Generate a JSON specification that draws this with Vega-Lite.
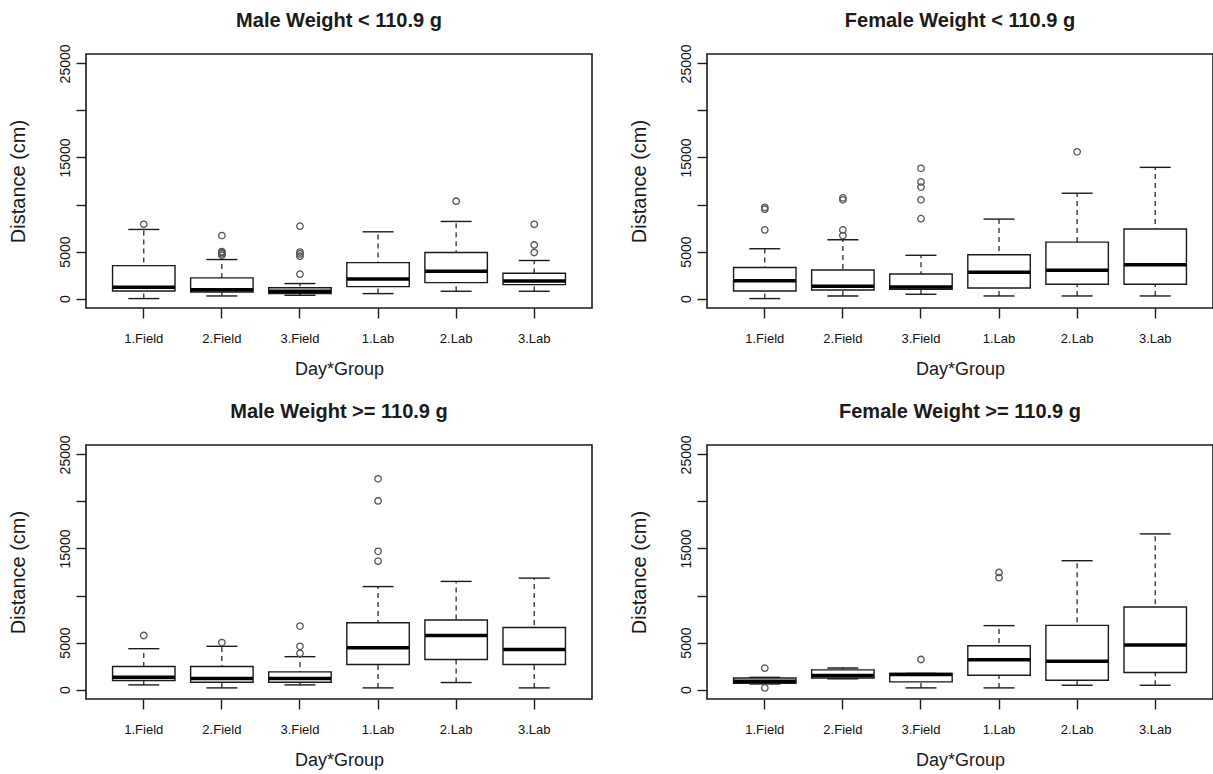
{
  "$schema": "https://vega.github.io/schema/vega-lite/v6.json",
  "background": "white",
  "padding": {"left": 7, "top": 10, "right": 0, "bottom": 0},
  "spacing": 22,
  "config": {
    "font": "Liberation Sans",
    "view": {"stroke": "#1a1a1a", "strokeWidth": 1.6},
    "title": {"font": "Liberation Sans", "fontSize": 20, "fontWeight": "bold", "color": "#1a1a1a", "anchor": "middle", "frame": "group", "offset": 13},
    "axis": {"domain": false, "grid": false, "tickColor": "#1a1a1a", "tickSize": 10, "tickWidth": 1.4, "labelFont": "Liberation Sans", "labelFontSize": 13, "labelColor": "#111", "titleFont": "Liberation Sans", "titleFontSize": 18, "titleFontWeight": "normal", "titleColor": "#1a1a1a"},
    "axisX": {"labelAngle": 0, "labelPadding": 14, "titlePadding": 15},
    "axisY": {"labelAngle": -90, "labelAlign": "center", "labelBaseline": "bottom", "labelPadding": 4, "labelFontSize": 14, "titlePadding": 30, "titleFontSize": 20}
  },
  "datasets": {
    "boxes": [
      {"panel": "ML", "group": "1.Field", "lower": 0, "q1": 800, "median": 1200, "q3": 3500, "upper": 7350},
      {"panel": "ML", "group": "2.Field", "lower": 280, "q1": 700, "median": 950, "q3": 2200, "upper": 4150},
      {"panel": "ML", "group": "3.Field", "lower": 350, "q1": 530, "median": 780, "q3": 1150, "upper": 1600},
      {"panel": "ML", "group": "1.Lab", "lower": 530, "q1": 1270, "median": 2080, "q3": 3820, "upper": 7100},
      {"panel": "ML", "group": "2.Lab", "lower": 780, "q1": 1700, "median": 2900, "q3": 4900, "upper": 8200},
      {"panel": "ML", "group": "3.Lab", "lower": 780, "q1": 1480, "median": 1870, "q3": 2700, "upper": 4050},
      {"panel": "FL", "group": "1.Field", "lower": 0, "q1": 810, "median": 1900, "q3": 3300, "upper": 5300},
      {"panel": "FL", "group": "2.Field", "lower": 280, "q1": 920, "median": 1310, "q3": 3040, "upper": 6250},
      {"panel": "FL", "group": "3.Field", "lower": 460, "q1": 990, "median": 1240, "q3": 2610, "upper": 4600},
      {"panel": "FL", "group": "1.Lab", "lower": 280, "q1": 1130, "median": 2800, "q3": 4660, "upper": 8450},
      {"panel": "FL", "group": "2.Lab", "lower": 280, "q1": 1520, "median": 3000, "q3": 6000, "upper": 11200},
      {"panel": "FL", "group": "3.Lab", "lower": 280, "q1": 1520, "median": 3600, "q3": 7400, "upper": 13950},
      {"panel": "MG", "group": "1.Field", "lower": 500, "q1": 960, "median": 1320, "q3": 2450, "upper": 4350},
      {"panel": "MG", "group": "2.Field", "lower": 180, "q1": 780, "median": 1170, "q3": 2450, "upper": 4600},
      {"panel": "MG", "group": "3.Field", "lower": 500, "q1": 780, "median": 1170, "q3": 1880, "upper": 3500},
      {"panel": "MG", "group": "1.Lab", "lower": 180, "q1": 2670, "median": 4450, "q3": 7100, "upper": 10950},
      {"panel": "MG", "group": "2.Lab", "lower": 750, "q1": 3200, "median": 5750, "q3": 7400, "upper": 11500},
      {"panel": "MG", "group": "3.Lab", "lower": 180, "q1": 2670, "median": 4270, "q3": 6600, "upper": 11850},
      {"panel": "FG", "group": "1.Field", "lower": 600, "q1": 680, "median": 890, "q3": 1240, "upper": 1300},
      {"panel": "FG", "group": "2.Field", "lower": 1150, "q1": 1240, "median": 1490, "q3": 2100, "upper": 2300},
      {"panel": "FG", "group": "3.Field", "lower": 180, "q1": 820, "median": 1600, "q3": 1710, "upper": 1720},
      {"panel": "FG", "group": "1.Lab", "lower": 180, "q1": 1530, "median": 3170, "q3": 4660, "upper": 6800},
      {"panel": "FG", "group": "2.Lab", "lower": 460, "q1": 1000, "median": 3020, "q3": 6830, "upper": 13700},
      {"panel": "FG", "group": "3.Lab", "lower": 460, "q1": 1810, "median": 4730, "q3": 8780, "upper": 16550}
    ],
    "outliers": [
      {"panel": "ML", "group": "1.Field", "value": 7900},
      {"panel": "ML", "group": "2.Field", "value": 4600},
      {"panel": "ML", "group": "2.Field", "value": 4750},
      {"panel": "ML", "group": "2.Field", "value": 4900},
      {"panel": "ML", "group": "2.Field", "value": 5000},
      {"panel": "ML", "group": "2.Field", "value": 6700},
      {"panel": "ML", "group": "3.Field", "value": 2600},
      {"panel": "ML", "group": "3.Field", "value": 4500},
      {"panel": "ML", "group": "3.Field", "value": 4750},
      {"panel": "ML", "group": "3.Field", "value": 4950},
      {"panel": "ML", "group": "3.Field", "value": 7700},
      {"panel": "ML", "group": "2.Lab", "value": 10350},
      {"panel": "ML", "group": "3.Lab", "value": 4900},
      {"panel": "ML", "group": "3.Lab", "value": 5700},
      {"panel": "ML", "group": "3.Lab", "value": 7900},
      {"panel": "FL", "group": "1.Field", "value": 7300},
      {"panel": "FL", "group": "1.Field", "value": 9500},
      {"panel": "FL", "group": "1.Field", "value": 9700},
      {"panel": "FL", "group": "2.Field", "value": 6700},
      {"panel": "FL", "group": "2.Field", "value": 7300},
      {"panel": "FL", "group": "2.Field", "value": 10500},
      {"panel": "FL", "group": "2.Field", "value": 10700},
      {"panel": "FL", "group": "3.Field", "value": 8500},
      {"panel": "FL", "group": "3.Field", "value": 10500},
      {"panel": "FL", "group": "3.Field", "value": 11850},
      {"panel": "FL", "group": "3.Field", "value": 12400},
      {"panel": "FL", "group": "3.Field", "value": 13850},
      {"panel": "FL", "group": "2.Lab", "value": 15600},
      {"panel": "MG", "group": "1.Field", "value": 5750},
      {"panel": "MG", "group": "2.Field", "value": 5000},
      {"panel": "MG", "group": "3.Field", "value": 3850},
      {"panel": "MG", "group": "3.Field", "value": 4600},
      {"panel": "MG", "group": "3.Field", "value": 6750},
      {"panel": "MG", "group": "1.Lab", "value": 13650},
      {"panel": "MG", "group": "1.Lab", "value": 14700},
      {"panel": "MG", "group": "1.Lab", "value": 20050},
      {"panel": "MG", "group": "1.Lab", "value": 22400},
      {"panel": "FG", "group": "1.Field", "value": 180},
      {"panel": "FG", "group": "1.Field", "value": 2280},
      {"panel": "FG", "group": "3.Field", "value": 3200},
      {"panel": "FG", "group": "1.Lab", "value": 11900},
      {"panel": "FG", "group": "1.Lab", "value": 12450}
    ]
  },
  "vconcat": [
    {"spacing": 35, "hconcat": [
      {
        "width": 506, "height": 254,
        "title": "Male Weight < 110.9 g",
        "encoding": {"x": {"field": "group", "type": "nominal", "title": "Day*Group", "scale": {"domain": ["1.Field", "2.Field", "3.Field", "1.Lab", "2.Lab", "3.Lab"], "paddingInner": 0, "paddingOuter": 0.24}}},
        "layer": [
          {"data": {"name": "boxes"}, "transform": [{"filter": "datum.panel == 'ML'"}], "mark": {"type": "rule", "strokeDash": [5, 4], "color": "#1a1a1a", "strokeWidth": 1.2}, "encoding": {"y": {"field": "lower", "type": "quantitative", "title": "Distance (cm)", "scale": {"domain": [-1000, 26000], "nice": false, "zero": false}, "axis": {"values": [0, 5000, 10000, 15000, 20000, 25000], "format": "d", "labelExpr": "datum.value == 10000 || datum.value == 20000 ? '' : datum.label"}}, "y2": {"field": "upper"}}},
          {"data": {"name": "boxes"}, "transform": [{"filter": "datum.panel == 'ML'"}], "mark": {"type": "tick", "size": 31, "thickness": 1.4, "color": "#1a1a1a", "opacity": 1}, "encoding": {"y": {"field": "lower", "type": "quantitative", "title": "Distance (cm)"}}},
          {"data": {"name": "boxes"}, "transform": [{"filter": "datum.panel == 'ML'"}], "mark": {"type": "tick", "size": 31, "thickness": 1.4, "color": "#1a1a1a", "opacity": 1}, "encoding": {"y": {"field": "upper", "type": "quantitative", "title": "Distance (cm)"}}},
          {"data": {"name": "boxes"}, "transform": [{"filter": "datum.panel == 'ML'"}], "mark": {"type": "bar", "width": {"band": 0.8}, "fill": "white", "stroke": "#1a1a1a", "strokeWidth": 1.4}, "encoding": {"y": {"field": "q1", "type": "quantitative", "title": "Distance (cm)"}, "y2": {"field": "q3"}}},
          {"data": {"name": "boxes"}, "transform": [{"filter": "datum.panel == 'ML'"}], "mark": {"type": "tick", "size": 62, "thickness": 3.5, "color": "#000", "opacity": 1}, "encoding": {"y": {"field": "median", "type": "quantitative", "title": "Distance (cm)"}}},
          {"data": {"name": "outliers"}, "transform": [{"filter": "datum.panel == 'ML'"}], "mark": {"type": "point", "shape": "circle", "filled": false, "size": 42, "color": "#555", "opacity": 1, "strokeWidth": 1.3}, "encoding": {"y": {"field": "value", "type": "quantitative", "title": "Distance (cm)"}}}
        ]
      },
      {
        "width": 506, "height": 254,
        "title": "Female Weight < 110.9 g",
        "encoding": {"x": {"field": "group", "type": "nominal", "title": "Day*Group", "scale": {"domain": ["1.Field", "2.Field", "3.Field", "1.Lab", "2.Lab", "3.Lab"], "paddingInner": 0, "paddingOuter": 0.24}}},
        "layer": [
          {"data": {"name": "boxes"}, "transform": [{"filter": "datum.panel == 'FL'"}], "mark": {"type": "rule", "strokeDash": [5, 4], "color": "#1a1a1a", "strokeWidth": 1.2}, "encoding": {"y": {"field": "lower", "type": "quantitative", "title": "Distance (cm)", "scale": {"domain": [-1000, 26000], "nice": false, "zero": false}, "axis": {"values": [0, 5000, 10000, 15000, 20000, 25000], "format": "d", "labelExpr": "datum.value == 10000 || datum.value == 20000 ? '' : datum.label"}}, "y2": {"field": "upper"}}},
          {"data": {"name": "boxes"}, "transform": [{"filter": "datum.panel == 'FL'"}], "mark": {"type": "tick", "size": 31, "thickness": 1.4, "color": "#1a1a1a", "opacity": 1}, "encoding": {"y": {"field": "lower", "type": "quantitative", "title": "Distance (cm)"}}},
          {"data": {"name": "boxes"}, "transform": [{"filter": "datum.panel == 'FL'"}], "mark": {"type": "tick", "size": 31, "thickness": 1.4, "color": "#1a1a1a", "opacity": 1}, "encoding": {"y": {"field": "upper", "type": "quantitative", "title": "Distance (cm)"}}},
          {"data": {"name": "boxes"}, "transform": [{"filter": "datum.panel == 'FL'"}], "mark": {"type": "bar", "width": {"band": 0.8}, "fill": "white", "stroke": "#1a1a1a", "strokeWidth": 1.4}, "encoding": {"y": {"field": "q1", "type": "quantitative", "title": "Distance (cm)"}, "y2": {"field": "q3"}}},
          {"data": {"name": "boxes"}, "transform": [{"filter": "datum.panel == 'FL'"}], "mark": {"type": "tick", "size": 62, "thickness": 3.5, "color": "#000", "opacity": 1}, "encoding": {"y": {"field": "median", "type": "quantitative", "title": "Distance (cm)"}}},
          {"data": {"name": "outliers"}, "transform": [{"filter": "datum.panel == 'FL'"}], "mark": {"type": "point", "shape": "circle", "filled": false, "size": 42, "color": "#555", "opacity": 1, "strokeWidth": 1.3}, "encoding": {"y": {"field": "value", "type": "quantitative", "title": "Distance (cm)"}}}
        ]
      }
    ]},
    {"spacing": 35, "hconcat": [
      {
        "width": 506, "height": 254,
        "title": "Male Weight >= 110.9 g",
        "encoding": {"x": {"field": "group", "type": "nominal", "title": "Day*Group", "scale": {"domain": ["1.Field", "2.Field", "3.Field", "1.Lab", "2.Lab", "3.Lab"], "paddingInner": 0, "paddingOuter": 0.24}}},
        "layer": [
          {"data": {"name": "boxes"}, "transform": [{"filter": "datum.panel == 'MG'"}], "mark": {"type": "rule", "strokeDash": [5, 4], "color": "#1a1a1a", "strokeWidth": 1.2}, "encoding": {"y": {"field": "lower", "type": "quantitative", "title": "Distance (cm)", "scale": {"domain": [-1000, 26000], "nice": false, "zero": false}, "axis": {"values": [0, 5000, 10000, 15000, 20000, 25000], "format": "d", "labelExpr": "datum.value == 10000 || datum.value == 20000 ? '' : datum.label"}}, "y2": {"field": "upper"}}},
          {"data": {"name": "boxes"}, "transform": [{"filter": "datum.panel == 'MG'"}], "mark": {"type": "tick", "size": 31, "thickness": 1.4, "color": "#1a1a1a", "opacity": 1}, "encoding": {"y": {"field": "lower", "type": "quantitative", "title": "Distance (cm)"}}},
          {"data": {"name": "boxes"}, "transform": [{"filter": "datum.panel == 'MG'"}], "mark": {"type": "tick", "size": 31, "thickness": 1.4, "color": "#1a1a1a", "opacity": 1}, "encoding": {"y": {"field": "upper", "type": "quantitative", "title": "Distance (cm)"}}},
          {"data": {"name": "boxes"}, "transform": [{"filter": "datum.panel == 'MG'"}], "mark": {"type": "bar", "width": {"band": 0.8}, "fill": "white", "stroke": "#1a1a1a", "strokeWidth": 1.4}, "encoding": {"y": {"field": "q1", "type": "quantitative", "title": "Distance (cm)"}, "y2": {"field": "q3"}}},
          {"data": {"name": "boxes"}, "transform": [{"filter": "datum.panel == 'MG'"}], "mark": {"type": "tick", "size": 62, "thickness": 3.5, "color": "#000", "opacity": 1}, "encoding": {"y": {"field": "median", "type": "quantitative", "title": "Distance (cm)"}}},
          {"data": {"name": "outliers"}, "transform": [{"filter": "datum.panel == 'MG'"}], "mark": {"type": "point", "shape": "circle", "filled": false, "size": 42, "color": "#555", "opacity": 1, "strokeWidth": 1.3}, "encoding": {"y": {"field": "value", "type": "quantitative", "title": "Distance (cm)"}}}
        ]
      },
      {
        "width": 506, "height": 254,
        "title": "Female Weight >= 110.9 g",
        "encoding": {"x": {"field": "group", "type": "nominal", "title": "Day*Group", "scale": {"domain": ["1.Field", "2.Field", "3.Field", "1.Lab", "2.Lab", "3.Lab"], "paddingInner": 0, "paddingOuter": 0.24}}},
        "layer": [
          {"data": {"name": "boxes"}, "transform": [{"filter": "datum.panel == 'FG'"}], "mark": {"type": "rule", "strokeDash": [5, 4], "color": "#1a1a1a", "strokeWidth": 1.2}, "encoding": {"y": {"field": "lower", "type": "quantitative", "title": "Distance (cm)", "scale": {"domain": [-1000, 26000], "nice": false, "zero": false}, "axis": {"values": [0, 5000, 10000, 15000, 20000, 25000], "format": "d", "labelExpr": "datum.value == 10000 || datum.value == 20000 ? '' : datum.label"}}, "y2": {"field": "upper"}}},
          {"data": {"name": "boxes"}, "transform": [{"filter": "datum.panel == 'FG'"}], "mark": {"type": "tick", "size": 31, "thickness": 1.4, "color": "#1a1a1a", "opacity": 1}, "encoding": {"y": {"field": "lower", "type": "quantitative", "title": "Distance (cm)"}}},
          {"data": {"name": "boxes"}, "transform": [{"filter": "datum.panel == 'FG'"}], "mark": {"type": "tick", "size": 31, "thickness": 1.4, "color": "#1a1a1a", "opacity": 1}, "encoding": {"y": {"field": "upper", "type": "quantitative", "title": "Distance (cm)"}}},
          {"data": {"name": "boxes"}, "transform": [{"filter": "datum.panel == 'FG'"}], "mark": {"type": "bar", "width": {"band": 0.8}, "fill": "white", "stroke": "#1a1a1a", "strokeWidth": 1.4}, "encoding": {"y": {"field": "q1", "type": "quantitative", "title": "Distance (cm)"}, "y2": {"field": "q3"}}},
          {"data": {"name": "boxes"}, "transform": [{"filter": "datum.panel == 'FG'"}], "mark": {"type": "tick", "size": 62, "thickness": 3.5, "color": "#000", "opacity": 1}, "encoding": {"y": {"field": "median", "type": "quantitative", "title": "Distance (cm)"}}},
          {"data": {"name": "outliers"}, "transform": [{"filter": "datum.panel == 'FG'"}], "mark": {"type": "point", "shape": "circle", "filled": false, "size": 42, "color": "#555", "opacity": 1, "strokeWidth": 1.3}, "encoding": {"y": {"field": "value", "type": "quantitative", "title": "Distance (cm)"}}}
        ]
      }
    ]}
  ]
}
